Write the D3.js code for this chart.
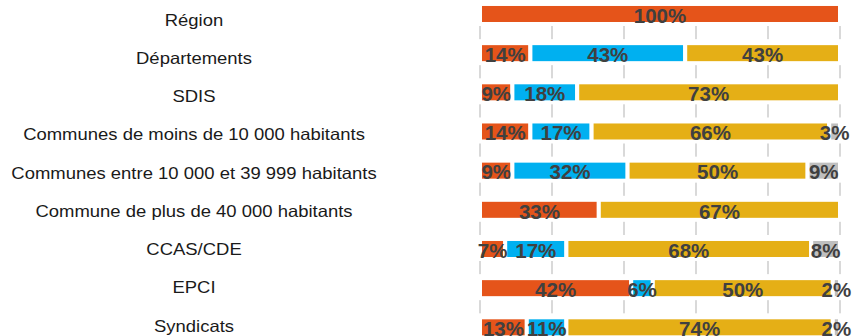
<!DOCTYPE html>
<html>
<head>
<meta charset="utf-8">
<script src="https://cdn.jsdelivr.net/npm/d3@7"></script>
<style>
  html, body { margin: 0; padding: 0; background: #fff; }
  svg { display: block; }
</style>
</head>
<body>
<svg id="chart" width="854" height="336"></svg>
<script>
// Catégories de collectivités (de haut en bas)
const categories = [
  "Région",
  "Départements",
  "SDIS",
  "Communes de moins de 10 000 habitants",
  "Communes entre 10 000 et 39 999 habitants",
  "Commune de plus de 40 000 habitants",
  "CCAS/CDE",
  "EPCI",
  "Syndicats"
];

// Parts (en %) de chaque série, dans l'ordre des catégories
const seriesOrange = [100, 14,  9, 14,  9, 33,  7, 42, 13];
const seriesBlue   = [  0, 43, 18, 17, 32,  0, 17,  6, 11];
const seriesGold   = [  0, 43, 73, 66, 50, 67, 68, 50, 74];
const seriesGray   = [  0,  0,  0,  3,  9,  0,  8,  2,  2];

const xTicks = [0, 20, 40, 60, 80, 100];

const seriesList = [
  { key: "orange", values: seriesOrange, color: "#E5541A" },
  { key: "blue",   values: seriesBlue,   color: "#00B0F0" },
  { key: "gold",   values: seriesGold,   color: "#E5AF16" },
  { key: "gray",   values: seriesGray,   color: "#BFBFBF" }
];

const svg = d3.select("#chart");

const x = d3.scaleLinear().domain([0, 100]).range([480, 840]);
const y = d3.scaleBand()
  .domain(categories)
  .range([-5.6, 346.9])
  .paddingInner(0.489)
  .paddingOuter(0.2445);
const yLabel = d3.scalePoint().domain(categories).range([25.5, 331.5]);

const strokeW = 4;

// Lignes de quadrillage verticales
svg.append("g")
  .selectAll("line")
  .data(xTicks)
  .join("line")
  .attr("x1", d => x(d)).attr("x2", d => x(d))
  .attr("y1", -5).attr("y2", 340)
  .attr("stroke", "#D9D9D9")
  .attr("stroke-width", 2);

// Bandes blanches derrière chaque barre (interrompent le quadrillage)
svg.append("g")
  .selectAll("rect")
  .data(categories)
  .join("rect")
  .attr("x", x(0) - 6)
  .attr("width", x(100) - x(0) + 12)
  .attr("y", d => y(d) - 4)
  .attr("height", y.bandwidth() + 5)
  .attr("fill", "#fff");

// Segments empilés
const segments = [];
categories.forEach((cat, i) => {
  let acc = 0;
  seriesList.forEach(s => {
    const v = s.values[i];
    if (v > 0) segments.push({ cat, v, x0: acc, x1: acc + v, color: s.color });
    acc += v;
  });
});

svg.append("g")
  .selectAll("rect")
  .data(segments)
  .join("rect")
  .attr("x", d => x(d.x0))
  .attr("width", d => x(d.x1) - x(d.x0))
  .attr("y", d => y(d.cat))
  .attr("height", y.bandwidth())
  .attr("fill", d => d.color)
  .attr("stroke", "#fff")
  .attr("stroke-width", strokeW);

// Étiquettes de valeurs
svg.append("g")
  .selectAll("text")
  .data(segments)
  .join("text")
  .attr("x", d => (x(d.x0) + x(d.x1)) / 2)
  .attr("y", d => y(d.cat) + y.bandwidth() / 2 + 8.7)
  .attr("text-anchor", "middle")
  .attr("font-family", "'Liberation Sans', Arial, sans-serif")
  .attr("font-weight", "bold")
  .attr("font-size", "20.5px")
  .attr("fill", "#404040")
  .text(d => d.v + "%");

// Libellés des catégories
const labelCx = 194;
svg.append("g")
  .selectAll("text")
  .data(categories)
  .join("text")
  .attr("transform", d => `translate(${labelCx},${yLabel(d)}) scale(1.12,1)`)
  .attr("text-anchor", "middle")
  .attr("font-family", "'Liberation Sans', Arial, sans-serif")
  .attr("font-size", "16.5px")
  .attr("fill", "#1a1a1a")
  .text(d => d);
</script>
</body>
</html>
